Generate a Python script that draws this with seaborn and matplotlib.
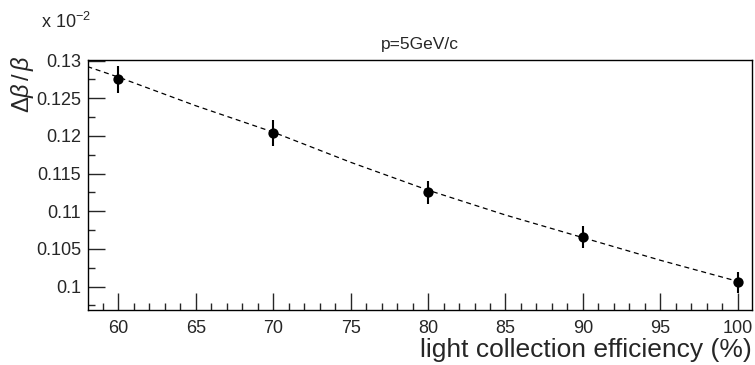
import matplotlib
matplotlib.use("Agg")
import matplotlib.pyplot as plt
import seaborn as sns
import numpy as np
import pandas as pd
from matplotlib.ticker import MultipleLocator, FixedLocator

# data
efficiency = [60, 70, 80, 90, 100]
resolution = [0.1275, 0.1204, 0.1125, 0.1066, 0.1006]
resolution_err = [0.0018, 0.0017, 0.0015, 0.0015, 0.0014]

fit_x = [58, 60, 65, 70, 75, 80, 85, 90, 95, 100]
fit_y = [0.1292, 0.1278, 0.1240, 0.1205, 0.1165, 0.1128, 0.1095, 0.1065, 0.1035, 0.1007]

y_ticks = [0.1, 0.105, 0.11, 0.115, 0.12, 0.125, 0.13]
y_tick_labels = ["0.1", "0.105", "0.11", "0.115", "0.12", "0.125", "0.13"]

sns.set_style("ticks")
plt.rcParams['font.family'] = ['Liberation Sans', 'DejaVu Sans']
plt.rcParams['mathtext.fontset'] = 'custom'
plt.rcParams['mathtext.rm'] = 'Liberation Sans'
plt.rcParams['mathtext.it'] = 'Liberation Sans:italic'

fig = plt.figure(figsize=(7.55, 3.65), dpi=100)
ax = fig.add_axes([88/755, 1-310/365, (751.7-88)/755, (310-60)/365])

pts = pd.DataFrame({"eff": efficiency, "res": resolution})
fit = pd.DataFrame({"x": fit_x, "y": fit_y})

sns.lineplot(data=fit, x="x", y="y", ax=ax, color="black", linewidth=0.9,
             linestyle=(0, (4, 3)))
ax.errorbar(efficiency, resolution, yerr=resolution_err, fmt="none",
            ecolor="black", elinewidth=1.5, capsize=0, zorder=3)
sns.scatterplot(data=pts, x="eff", y="res", ax=ax, color="black", s=55,
                edgecolor="black", linewidth=0, zorder=4)

ax.set_xlim(58.04, 100.9)
ax.set_ylim(0.0969, 0.13007)

ax.xaxis.set_major_locator(MultipleLocator(5))
ax.xaxis.set_minor_locator(MultipleLocator(1))
ax.yaxis.set_major_locator(FixedLocator(y_ticks))
ax.set_yticklabels(y_tick_labels)
ax.yaxis.set_minor_locator(MultipleLocator(0.0025))

ax.tick_params(axis="both", which="major", direction="in", length=12, width=1,
               labelsize=13, pad=5, top=False, right=False)
ax.tick_params(axis="both", which="minor", direction="in", length=5, width=1,
               top=False, right=False)
ax.tick_params(axis="x", which="major", pad=7)

for s in ax.spines.values():
    s.set_linewidth(1.0)
    s.set_color("black")

ax.set_xlabel("")
ax.set_ylabel("")

fig.text(752/755, 1-350/365, "light collection efficiency (%)", ha="right",
         va="center", fontsize=19)
fig.text(22/755, 1-84/365, r"$\Delta\beta\,/\,\beta$", rotation=90, ha="center",
         va="center", fontsize=17)
fig.text(420/755, 1-44/365, "p=5GeV/c", ha="center", va="center", fontsize=12.5)
fig.text(41/755, 1-22/365, r"x 10$^{-2}$", ha="left", va="center", fontsize=13)

fig.savefig("out.png", dpi=100)
